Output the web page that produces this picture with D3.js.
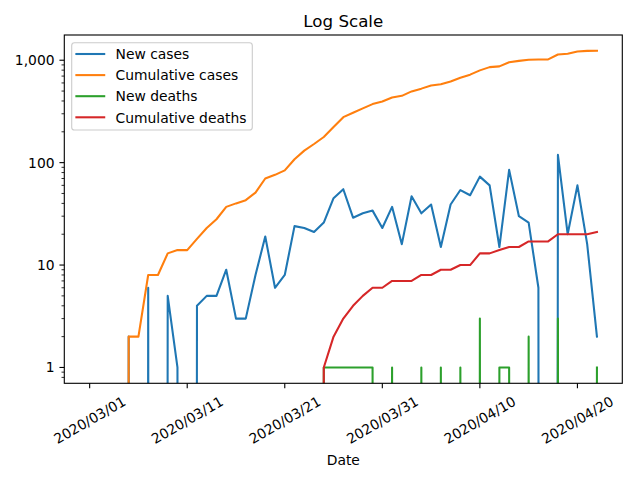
<!DOCTYPE html>
<html><head><meta charset="utf-8">
<script src="https://cdn.jsdelivr.net/npm/d3@7"></script>
<style>body{margin:0;background:#fff} svg{display:block}</style>
</head><body><svg id="c" width="640" height="480"></svg>
<script>
const dates = [
"2020-03-01","2020-03-02","2020-03-03","2020-03-04","2020-03-05","2020-03-06","2020-03-07","2020-03-08","2020-03-09","2020-03-10",
"2020-03-11","2020-03-12","2020-03-13","2020-03-14","2020-03-15","2020-03-16","2020-03-17","2020-03-18","2020-03-19","2020-03-20",
"2020-03-21","2020-03-22","2020-03-23","2020-03-24","2020-03-25","2020-03-26","2020-03-27","2020-03-28","2020-03-29","2020-03-30",
"2020-03-31","2020-04-01","2020-04-02","2020-04-03","2020-04-04","2020-04-05","2020-04-06","2020-04-07","2020-04-08","2020-04-09",
"2020-04-10","2020-04-11","2020-04-12","2020-04-13","2020-04-14","2020-04-15","2020-04-16","2020-04-17","2020-04-18","2020-04-19",
"2020-04-20","2020-04-21","2020-04-22"];
const newCases = [0,0,0,0,2,0,6,0,5,1, 0,4,5,5,9,3,3,8,19,6, 8,24,23,21,26,45,55,29,32,34, 23,37,16,47,32,39,15,39,54,48, 73,60,15,85,30,26,6,0,119,20, 60,16,2];
const cumulativeCases = [0,0,0,0,2,2,8,8,13,14, 14,18,23,28,37,40,43,51,70,76, 84,108,131,152,178,223,278,307,339,373, 396,433,449,496,528,567,582,621,675,723, 796,856,871,956,986,1012,1018,1018,1137,1157, 1217,1233,1235];
const newDeaths = [0,0,0,0,0,0,0,0,0,0, 0,0,0,0,0,0,0,0,0,0, 0,0,0,0,1,1,1,1,1,1, 0,1,0,0,1,0,1,0,1,0, 3,0,1,1,0,2,0,0,3,0, 0,0,1];
const cumulativeDeaths = [0,0,0,0,0,0,0,0,0,0, 0,0,0,0,0,0,0,0,0,0, 0,0,0,0,1,2,3,4,5,6, 6,7,7,7,8,8,9,9,10,10, 13,13,14,15,15,17,17,17,20,20, 20,20,21];
const seriesNames = ["New cases","Cumulative cases","New deaths","Cumulative deaths"];
const seriesColors = ["#1f77b4","#ff7f0e","#2ca02c","#d62728"];
const xTickLabels = ["2020/03/01","2020/03/11","2020/03/21","2020/03/31","2020/04/10","2020/04/20"];
const yTickValues = [1,10,100,1000];

const FONT = "DejaVu Sans";
const FS = 13.89;
const svg = d3.select("#c");
const L = 64.3, R = 622.3, T = 35, B = 383.3;

const parse = d3.utcParse("%Y-%m-%d");
const parseTick = d3.utcParse("%Y/%m/%d");
const xs = dates.map(parse);
const day = 86400000;
const span = xs[xs.length-1] - xs[0];
const x = d3.scaleUtc()
  .domain([new Date(+xs[0] - 0.05*span), new Date(+xs[xs.length-1] + 0.05*span)])
  .range([L, R]);

const allVals = [].concat(newCases, cumulativeCases, newDeaths, cumulativeDeaths).filter(v => v > 0);
const lmin = Math.log10(d3.min(allVals)), lmax = Math.log10(d3.max(allVals));
const lm = 0.05*(lmax - lmin);
const y = d3.scaleLog().domain([Math.pow(10, lmin - lm), Math.pow(10, lmax + lm)]).range([B, T]);

svg.append("rect").attr("width",640).attr("height",480).attr("fill","#fff");

svg.append("defs").append("clipPath").attr("id","clip")
  .append("rect").attr("x",L).attr("y",T).attr("width",R-L).attr("height",B-T);

const series = [newCases, cumulativeCases, newDeaths, cumulativeDeaths];
const line = d3.line()
  .x((d,i) => x(xs[i]))
  .y(d => y(d > 0 ? d : 1e-100));

const g = svg.append("g").attr("clip-path","url(#clip)");
series.forEach((s, k) => {
  g.append("path").datum(s).attr("d", line)
    .attr("fill","none").attr("stroke", seriesColors[k])
    .attr("stroke-width",2.08).attr("stroke-linejoin","round").attr("stroke-linecap","square");
});

// y axis ticks
const fmt = d3.format(",");
const ya = svg.append("g");
yTickValues.forEach(v => {
  const yy = y(v);
  ya.append("line").attr("x1",L).attr("x2",L-4.86).attr("y1",yy).attr("y2",yy)
    .attr("stroke","#000").attr("stroke-width",1.11);
  ya.append("text").attr("x",L-9.72).attr("y",yy).attr("dy","0.36em")
    .attr("text-anchor","end").attr("font-family",FONT).attr("font-size",FS).text(fmt(v));
});
const [d0, d1] = y.domain();
for (let e = -1; e <= 4; e++) {
  for (let k = 2; k <= 9; k++) {
    const v = k*Math.pow(10, e);
    if (v < d0 || v > d1) continue;
    const yy = y(v);
    ya.append("line").attr("x1",L).attr("x2",L-2.78).attr("y1",yy).attr("y2",yy)
      .attr("stroke","#000").attr("stroke-width",0.83);
  }
}

// x axis ticks
const xa = svg.append("g");
let maxH = 0;
xTickLabels.forEach(lbl => {
  const xx = x(parseTick(lbl));
  xa.append("line").attr("x1",xx).attr("x2",xx).attr("y1",B).attr("y2",B+4.86)
    .attr("stroke","#000").attr("stroke-width",1.11);
  const t = xa.append("text").attr("text-anchor","middle").attr("dominant-baseline","central")
    .attr("font-family",FONT).attr("font-size",FS).text(lbl);
  const w = t.node().getComputedTextLength();
  const h = FS*1.164;
  const H = w*0.5 + h*0.866;
  maxH = Math.max(maxH, H);
  t.attr("transform",`translate(${xx},${B+9.72+H/2}) rotate(-30)`);
});

// spines
svg.append("rect").attr("x",L).attr("y",T).attr("width",R-L).attr("height",B-T)
  .attr("fill","none").attr("stroke","#000").attr("stroke-width",1.11);

// labels
svg.append("text").attr("x",(L+R)/2).attr("y",B+9.72+maxH+5.56+FS*0.928)
  .attr("text-anchor","middle").attr("font-family",FONT).attr("font-size",FS).text("Date");
svg.append("text").attr("x",(L+R)/2).attr("y",T-8.33)
  .attr("text-anchor","middle").attr("font-family",FONT).attr("font-size",16.67).text("Log Scale");

// legend
const lg = svg.append("g");
lg.append("rect").attr("x",71.7).attr("y",42.7).attr("width",180.6).attr("height",87.3).attr("rx",2.8)
  .attr("fill","#fff").attr("fill-opacity",0.8).attr("stroke","#cccccc").attr("stroke-width",1.11);
seriesNames.forEach((n,k) => {
  const ly = 54 + k*21.1;
  lg.append("line").attr("x1",76.4).attr("x2",104.2).attr("y1",ly).attr("y2",ly)
    .attr("stroke",seriesColors[k]).attr("stroke-width",2.08).attr("stroke-linecap","square");
  lg.append("text").attr("x",115.5).attr("y",ly+5.2).attr("font-family",FONT).attr("font-size",FS).text(n);
});
</script></body></html>
